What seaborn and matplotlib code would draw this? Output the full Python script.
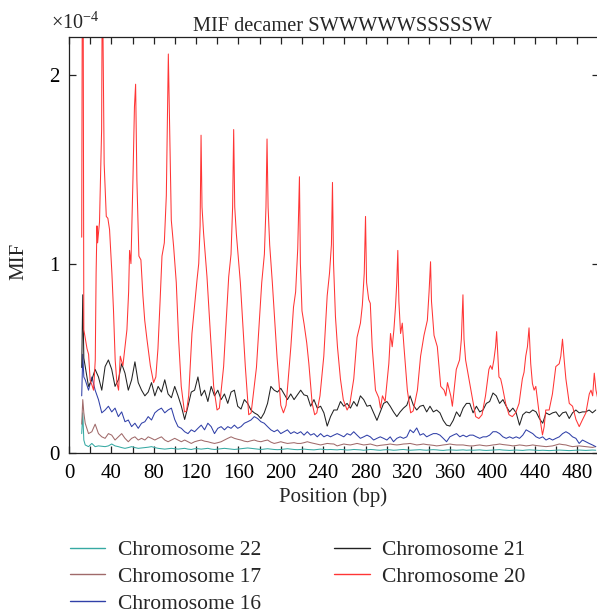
import numpy as np
import pandas as pd
import matplotlib
matplotlib.use("Agg")
import matplotlib.pyplot as plt
from matplotlib.ticker import MultipleLocator, FixedLocator
import seaborn as sns

# ---------------- data (MIF values in units of 1e-4) ----------------
labels = ["Chromosome 22", "Chromosome 17", "Chromosome 16", "Chromosome 21", "Chromosome 20"]
colors = ["#36a9a3", "#a06a6a", "#3040a8", "#222222", "#ff3535"]

head_pos = [12, 13, 14]
grid_start, grid_end, grid_n = 15.3, 497.4, 155

chr21_head = [0.45, 0.835, 0.50]
chr21 = [0.455, 0.35, 0.385, 0.44, 0.40, 0.33, 0.455, 0.49, 0.44, 0.35, 0.385, 0.47, 0.42, 0.33, 0.385, 0.48, 0.37,
         0.33, 0.30, 0.32, 0.37, 0.30, 0.35, 0.32, 0.385, 0.31, 0.29, 0.35, 0.30, 0.245, 0.175, 0.245, 0.32, 0.33,
         0.40, 0.30, 0.33, 0.27, 0.35, 0.30, 0.33, 0.28, 0.31, 0.26, 0.32, 0.33, 0.245, 0.23, 0.28, 0.26, 0.225,
         0.21, 0.20, 0.18, 0.21, 0.26, 0.35, 0.33, 0.32, 0.34, 0.31, 0.28, 0.31, 0.28, 0.305, 0.33, 0.305, 0.30,
         0.245, 0.28, 0.235, 0.245, 0.21, 0.14, 0.19, 0.225,
         0.225, 0.27, 0.245, 0.26, 0.235, 0.27, 0.245, 0.30, 0.28, 0.245, 0.25, 0.21, 0.17, 0.215, 0.26, 0.27,
         0.245, 0.215, 0.19, 0.215, 0.235, 0.25, 0.30, 0.25, 0.225, 0.245, 0.25, 0.215, 0.245, 0.215, 0.225, 0.21,
         0.17, 0.145, 0.14, 0.17, 0.215, 0.19, 0.235, 0.26, 0.26,
         0.21, 0.245, 0.215, 0.225, 0.26, 0.27, 0.315, 0.30, 0.26, 0.28, 0.245, 0.215, 0.235, 0.21, 0.145, 0.20,
         0.215, 0.21, 0.225, 0.215, 0.18, 0.155, 0.21, 0.20, 0.21, 0.215, 0.19, 0.21, 0.215, 0.18, 0.21, 0.225,
         0.21, 0.215, 0.215, 0.225, 0.21, 0.225]

chr16_head = [0.30, 0.52, 0.40]
chr16 = [0.385, 0.33, 0.40, 0.33, 0.28, 0.21, 0.225, 0.245, 0.215, 0.235, 0.19, 0.215, 0.163, 0.172, 0.137, 0.155,
         0.128, 0.155, 0.163, 0.19, 0.172, 0.21, 0.225, 0.235, 0.21, 0.225, 0.235, 0.175, 0.137, 0.128, 0.11, 0.10,
         0.12, 0.11,
         0.128, 0.145, 0.12, 0.155, 0.137, 0.10, 0.128, 0.137, 0.12, 0.137, 0.128, 0.145, 0.128, 0.137, 0.155,
         0.163, 0.172, 0.19, 0.18, 0.163, 0.155, 0.137, 0.12, 0.11, 0.12, 0.10, 0.11, 0.12, 0.10, 0.11, 0.10, 0.11,
         0.092, 0.11, 0.092, 0.10, 0.083, 0.10, 0.083, 0.092, 0.083, 0.092,
         0.10, 0.092, 0.083, 0.10, 0.092, 0.11, 0.092, 0.075, 0.083, 0.092, 0.083, 0.066, 0.075, 0.083, 0.075,
         0.066, 0.083, 0.057, 0.075, 0.083, 0.075, 0.083, 0.12, 0.105, 0.13, 0.092, 0.10, 0.083, 0.092, 0.10, 0.10,
         0.092, 0.075, 0.057, 0.083, 0.092, 0.10, 0.083, 0.092, 0.083, 0.092,
         0.092, 0.083, 0.075, 0.083, 0.083, 0.092, 0.11, 0.11, 0.10, 0.083, 0.075, 0.083, 0.075, 0.083, 0.075,
         0.092, 0.12, 0.11, 0.10, 0.083, 0.075, 0.083, 0.066, 0.075, 0.066, 0.075, 0.083, 0.10, 0.11, 0.10, 0.083,
         0.075, 0.048, 0.066, 0.057, 0.048, 0.04, 0.031]

chr17_head = [0.15, 0.28, 0.21]
chr17 = [0.155, 0.10, 0.11, 0.15, 0.10, 0.083, 0.075, 0.10, 0.092, 0.066, 0.083, 0.10, 0.075, 0.057, 0.075, 0.083,
         0.066, 0.075, 0.066, 0.083, 0.075, 0.066, 0.075, 0.083, 0.066, 0.057, 0.066, 0.075, 0.066, 0.057, 0.066,
         0.057, 0.048, 0.057,
         0.062, 0.066, 0.060, 0.057, 0.052, 0.048, 0.052, 0.057, 0.066, 0.075, 0.083, 0.075, 0.070, 0.066, 0.060,
         0.057, 0.062, 0.066, 0.060, 0.057, 0.062, 0.066, 0.055, 0.048, 0.052, 0.057, 0.052, 0.048, 0.050, 0.052,
         0.048, 0.048, 0.052, 0.057, 0.052, 0.048, 0.044, 0.040, 0.044, 0.048, 0.046, 0.045,
         0.035, 0.040, 0.045, 0.042, 0.040, 0.044, 0.048, 0.044, 0.040, 0.042, 0.045, 0.040, 0.035, 0.038, 0.040,
         0.042, 0.045, 0.042, 0.040, 0.042, 0.045, 0.046, 0.048, 0.044, 0.040, 0.042, 0.045, 0.042, 0.040, 0.038,
         0.035, 0.037, 0.040, 0.042, 0.045, 0.042, 0.040, 0.040, 0.040, 0.037, 0.035,
         0.035, 0.038, 0.040, 0.037, 0.035, 0.037, 0.040, 0.042, 0.045, 0.042, 0.040, 0.038, 0.035, 0.037, 0.040,
         0.038, 0.035, 0.037, 0.040, 0.037, 0.035, 0.033, 0.031, 0.033, 0.035, 0.040, 0.045, 0.042, 0.040, 0.035,
         0.031, 0.033, 0.035, 0.033, 0.031, 0.029, 0.027, 0.031]

chr22_head = [0.10, 0.21, 0.066]
chr22 = [0.04, 0.031, 0.048, 0.031, 0.035, 0.033, 0.031, 0.035, 0.045, 0.035, 0.031, 0.026, 0.022, 0.026, 0.031,
         0.026, 0.022, 0.024, 0.026, 0.028, 0.031, 0.026, 0.022, 0.020, 0.018, 0.020, 0.022, 0.020, 0.018, 0.020,
         0.022, 0.018, 0.016, 0.020,
         0.020, 0.018, 0.020, 0.022, 0.018, 0.016, 0.018, 0.020, 0.022, 0.020, 0.018, 0.016, 0.018, 0.020, 0.022,
         0.024, 0.022, 0.020, 0.018, 0.016, 0.018, 0.020, 0.018, 0.016, 0.015, 0.016, 0.018, 0.020, 0.018, 0.016,
         0.015, 0.016, 0.018, 0.016, 0.015, 0.014, 0.016, 0.018, 0.016, 0.015, 0.016, 0.015,
         0.014, 0.016, 0.015, 0.013, 0.014, 0.016, 0.015, 0.014, 0.012, 0.014, 0.016, 0.015, 0.013, 0.012, 0.014,
         0.015, 0.014, 0.012, 0.013, 0.015, 0.016, 0.014, 0.012, 0.013, 0.014, 0.015, 0.013, 0.012, 0.014, 0.015,
         0.014, 0.012, 0.011, 0.013, 0.014, 0.013, 0.012, 0.013, 0.014, 0.012, 0.013,
         0.012, 0.013, 0.014, 0.012, 0.011, 0.012, 0.013, 0.014, 0.015, 0.013, 0.012, 0.011, 0.012, 0.013, 0.012,
         0.011, 0.013, 0.014, 0.013, 0.012, 0.011, 0.012, 0.011, 0.010, 0.011, 0.012, 0.013, 0.012, 0.011, 0.010,
         0.011, 0.012, 0.013, 0.012, 0.011, 0.012, 0.013, 0.012]

chr20_pos = [12, 13, 14, 15.5, 17, 18.5, 20, 21.5, 23.2, 24.8, 25.6, 26.4, 27, 28.8, 30.8, 31.5, 32.3, 33.2, 35.2,
             36.7, 38.3, 40.5, 42, 43.6, 45.2, 46.8, 48.4, 50.9, 53.1, 54.7, 56.3, 57.2, 58.5, 60.4, 61.8, 62.9,
             64.1, 66, 67.9, 69.8, 71.5, 73.6, 76.8, 79.9, 82, 84, 86, 87.8, 90, 91.9, 93.8, 95.1, 96.6, 98.8,
             101.3, 103.5, 106, 109, 111, 113, 116.1, 120.9, 122.5, 123.8, 124.7, 125.6, 127.1, 130.3, 133.5,
             136.6, 139.8, 142, 146, 150.8, 153, 154.5, 155.5, 156.5, 158, 161.8, 166.5, 169.7, 172, 177, 182,
             184.5, 186, 187, 188, 189.5, 192, 196.5, 200, 202.5, 205, 207.5, 209.5, 212, 214, 216, 217.6, 218.5,
             220, 222, 224.5, 226.5, 229.6, 232, 234, 237, 240.6, 243.8, 246, 247.8, 248.8, 249.8, 251.6, 253.5,
             256.3, 259, 262.6, 265, 268.9, 272, 275.2, 277, 278.8, 280, 281, 283, 284.5, 286.3, 289.4, 292.5,
             294.1, 296, 298.5, 302, 303.6, 305.2, 306.8, 308.3, 309.5, 310.5, 311.5, 313.1, 314.7, 316.3, 319.5,
             322.6, 325, 329, 332, 335.2, 336.8, 338.4, 340, 341.4, 342.3, 344.7, 347.8, 351, 354.2, 355.8, 357.4,
             360.5, 362, 365.7, 368.8, 370.5, 372, 373, 374.5, 377.6, 380.8, 384, 387, 390, 393.3, 396.5, 398,
             399.6, 401.2, 402.8, 403.8, 405, 406, 407.6, 409.2, 412.3, 415.5, 418.6, 421.8, 425, 428.1, 429.7,
             431.3, 432.9, 434.4, 436, 437.6, 439.2, 440.8, 443.9, 447.1, 448.7, 450.2, 453.4, 456.5, 459.7,
             462.9, 464.4, 466, 467.6, 469.2, 472.4, 475.5, 478.7, 481.8, 485, 488.1, 491.3, 492.9, 494.5, 496,
             497.6, 499.5]
chr20 = [1.14, 3.5, 0.65, 0.60, 0.55, 0.52, 0.38, 0.36, 0.33, 0.49, 0.95, 1.20, 1.11, 1.22, 1.71, 2.6, 2.08, 1.53,
         1.25, 1.24, 1.18, 0.95, 0.755, 0.49, 0.37, 0.33, 0.51, 0.46, 0.57, 0.65, 0.85, 1.07, 1.0, 1.45, 1.83, 1.95,
         1.445, 1.04, 1.02, 0.83, 0.70, 0.60, 0.46, 0.37, 0.40, 0.55, 0.80, 1.04, 1.11, 1.36, 2.11, 1.71, 1.23,
         1.09, 0.90, 0.60, 0.35, 0.215, 0.22, 0.30, 0.63, 0.915, 1.0, 1.2, 1.68, 1.3, 1.16, 0.93, 0.63, 0.35,
         0.225, 0.235, 0.455, 0.93, 1.05, 1.3, 1.71, 1.3, 1.16, 0.9, 0.455, 0.20, 0.21, 0.45, 0.9, 1.05, 1.3,
         1.66, 1.3, 1.1, 0.9, 0.5, 0.25, 0.21, 0.25, 0.42, 0.56, 0.77, 0.85, 1.08, 1.46, 1.0, 0.75, 0.68, 0.58,
         0.47, 0.26, 0.20, 0.21, 0.30, 0.51, 0.83, 0.95, 1.1, 1.43, 1.0, 0.72, 0.56, 0.39, 0.28, 0.225, 0.25,
         0.39, 0.61, 0.685, 0.78, 0.95, 1.25, 0.9, 0.81, 0.79, 0.56, 0.33, 0.29, 0.235, 0.30, 0.27, 0.47, 0.63,
         0.56, 0.65, 0.77, 0.9, 1.07, 0.8, 0.63, 0.685, 0.56, 0.33, 0.21, 0.22, 0.33, 0.51, 0.62, 0.66, 0.70,
         0.85, 1.01, 0.8, 0.62, 0.56, 0.35, 0.33, 0.30, 0.37, 0.30, 0.245, 0.44, 0.49, 0.6, 0.835, 0.6, 0.49,
         0.39, 0.29, 0.19, 0.18, 0.2, 0.30, 0.44, 0.46, 0.44, 0.49, 0.56, 0.64, 0.51, 0.40, 0.39, 0.35, 0.26,
         0.20, 0.19, 0.21, 0.26, 0.39, 0.425, 0.51, 0.56, 0.66, 0.47, 0.365, 0.33, 0.35, 0.21, 0.093, 0.137,
         0.225, 0.225, 0.31, 0.455, 0.47, 0.51, 0.60, 0.49, 0.39, 0.26, 0.245, 0.175, 0.137, 0.175, 0.21, 0.31,
         0.33, 0.30, 0.42, 0.33, 0.28]

x_ticks = [0, 40, 80, 120, 160, 200, 240, 280, 320, 360, 400, 440, 480]
y_ticks = [0, 1, 2]

# ---------------- build long table ----------------
grid_pos = np.linspace(grid_start, grid_end, grid_n)
frames = []
for lab, head, vals in [("Chromosome 22", chr22_head, chr22), ("Chromosome 17", chr17_head, chr17),
                        ("Chromosome 16", chr16_head, chr16), ("Chromosome 21", chr21_head, chr21)]:
    frames.append(pd.DataFrame({"Position": np.concatenate([head_pos, grid_pos]),
                                "MIF": np.concatenate([head, vals]), "Chromosome": lab}))
frames.append(pd.DataFrame({"Position": chr20_pos, "MIF": chr20, "Chromosome": "Chromosome 20"}))
df = pd.concat(frames, ignore_index=True)

# ---------------- style ----------------
sns.set_style("white")
plt.rcParams["font.family"] = ["Liberation Serif", "DejaVu Serif"]
plt.rcParams["mathtext.fontset"] = "custom"
plt.rcParams["mathtext.rm"] = "Liberation Serif"
plt.rcParams["mathtext.it"] = "Liberation Serif:italic"

W, H = 597, 615
fig = plt.figure(figsize=(W / 100, H / 100), dpi=100)
ax = fig.add_axes([69 / W, (H - 452.5) / H, (598.5 - 69) / W, (452.5 - 37) / H])

sns.lineplot(data=df, x="Position", y="MIF", hue="Chromosome", hue_order=labels,
             palette=dict(zip(labels, colors)), estimator=None, sort=False,
             linewidth=0.75, ax=ax, legend=True)

ax.set_xlim(0, 500)
ax.set_ylim(0, 2.2)
ax.xaxis.set_major_locator(FixedLocator(x_ticks))
ax.xaxis.set_minor_locator(MultipleLocator(20))
ax.yaxis.set_major_locator(FixedLocator(y_ticks))
ax.set_xticklabels([str(t) for t in x_ticks])
ax.set_yticklabels([str(t) for t in y_ticks])
ax.tick_params(which="both", direction="in", top=True, right=True, bottom=True, left=True,
               length=5, width=0.9, color="#222222", labelsize=15, labelcolor="black")
ax.tick_params(axis="x", pad=8)
ax.tick_params(axis="y", pad=7)
for s in ax.spines.values():
    s.set_visible(True)
    s.set_color("#222222")
    s.set_linewidth(0.9)
ax.set_xlabel("")
ax.set_ylabel("")

fig.text(342.5 / W, 1 - 31 / H, "MIF decamer SWWWWWSSSSSW", ha="center", va="baseline", fontsize=14.7)
fig.text(51 / W, 1 - 29 / H, r"$\times10^{-4}$", ha="left", va="baseline", fontsize=14.5)
fig.text(18.5 / W, 1 - 261 / H, "MIF", rotation=90, ha="center", va="center", fontsize=15)
fig.text(333 / W, 1 - 497 / H, "Position (bp)", ha="center", va="center", fontsize=15)

old = ax.get_legend()
handles = old.legend_handles
texts = [t.get_text() for t in old.get_texts()]
old.remove()
leg = fig.legend(handles, texts, loc="upper left", bbox_to_anchor=(70 / W, 1 - 540 / H),
                 bbox_transform=fig.transFigure, ncol=2, frameon=False, fontsize=15.5,
                 handlelength=1.63, handletextpad=0.6, columnspacing=3.4, labelspacing=0.31,
                 borderpad=0, borderaxespad=0)
for h in leg.legend_handles:
    h.set_linewidth(1.0)

fig.savefig("out.png", dpi=100)
